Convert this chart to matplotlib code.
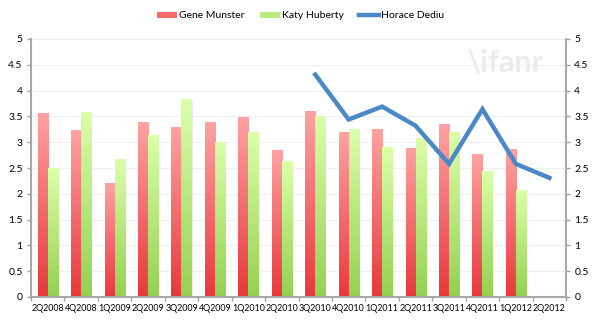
import numpy as np
import matplotlib
matplotlib.use("Agg")
import matplotlib.pyplot as plt
from matplotlib.colors import LinearSegmentedColormap
from matplotlib.patches import Patch
from matplotlib.lines import Line2D

plt.rcParams['font.family'] = ['Lato', 'DejaVu Sans']

categories = ["2Q2008", "4Q2008", "1Q2009", "2Q2009", "3Q2009", "4Q2009", "1Q2010", "2Q2010",
              "3Q2010", "4Q2010", "1Q2011", "2Q2011", "3Q2011", "4Q2011", "1Q2012", "2Q2012"]
gene = [3.56, 3.22, 2.20, 3.39, 3.29, 3.39, 3.48, 2.83, 3.60, 3.19, 3.25, 2.87, 3.35, 2.76, 2.85, np.nan]
katy = [2.50, 3.58, 2.66, 3.13, 3.82, 3.00, 3.19, 2.62, 3.49, 3.25, 2.90, 3.08, 3.19, 2.43, 2.06, np.nan]
horace = [np.nan] * 8 + [4.31, 3.44, 3.69, 3.32, 2.58, 3.64, 2.58, 2.31]
yticks = [0, 0.5, 1, 1.5, 2, 2.5, 3, 3.5, 4, 4.5, 5]
ytick_labels = ["0", "0.5", "1", "1.5", "2", "2.5", "3", "3.5", "4", "4.5", "5"]

fig = plt.figure(figsize=(5.95, 3.29), dpi=100)
ax = fig.add_axes([31 / 595, 1 - 297 / 329, (566 - 31) / 595, (297 - 39) / 329])

x = np.arange(len(categories))
w = 0.3
red_cmap = LinearSegmentedColormap.from_list("r", ["#e8383c", "#ffa2a2"])
green_cmap = LinearSegmentedColormap.from_list("g", ["#94d150", "#dcffaa"])
grad = np.linspace(0, 1, 256).reshape(-1, 1)

def grad_bars(xs, vals, cmap):
    bars = ax.bar(xs, vals, width=w, color="none", edgecolor="none", zorder=2)
    for b in bars:
        h = b.get_height()
        if not np.isfinite(h) or h <= 0:
            continue
        x0, y0 = b.get_x(), b.get_y()
        ax.add_patch(plt.Rectangle((x0 + 0.03, y0), b.get_width(), h, color="#d8d8d8",
                                   alpha=0.5, zorder=1.5, lw=0))
        ax.imshow(grad, extent=[x0, x0 + b.get_width(), y0, y0 + h], origin="lower",
                  aspect="auto", cmap=cmap, zorder=2)

grad_bars(x - w / 2, gene, red_cmap)
grad_bars(x + w / 2, katy, green_cmap)

ax.plot(x, horace, color="#4a88c8", lw=3.2, zorder=4, solid_joinstyle="miter")

ax.set_xlim(-0.5, len(categories) - 0.5)
ax.set_ylim(0, 5)
ax.set_yticks(yticks)
ax.set_yticklabels(ytick_labels)
ax.tick_params(axis="y", which="both", labelsize=7.5, length=3, width=1, color="#a0a0a0",
               labelright=True, right=True, pad=3)
ax.set_xticks(x)
ax.set_xticklabels(categories)
ax.set_xticks(np.arange(-0.5, len(categories) + 0.5, 1), minor=True)
ax.tick_params(axis="x", which="major", length=0, pad=5, labelsize=6.4)
ax.tick_params(axis="x", which="minor", length=3, width=1, color="#a0a0a0")
ax.grid(axis="y", color="#efefef", lw=0.8, zorder=0)
ax.set_axisbelow(True)
ax.spines["top"].set_visible(False)
for s in ["left", "right", "bottom"]:
    ax.spines[s].set_color("#a8a8a8")
    ax.spines[s].set_linewidth(1.5)

ax.text(0.885, 0.91, "\\ifanr", transform=ax.transAxes, fontsize=22, color="#ececec",
        ha="center", va="center", fontweight="bold", zorder=1)

handles = [Patch(facecolor="#f56a6a", edgecolor="none"),
           Patch(facecolor="#b8ec78", edgecolor="none"),
           Line2D([0], [0], color="#4a88c8", lw=3.2)]
fig.legend(handles, ["Gene Munster", "Katy Huberty", "Horace Dediu"], loc="center",
           bbox_to_anchor=(0.505, 1 - 16 / 329), ncol=3, frameon=False, fontsize=7.5,
           handlelength=1.9, handleheight=0.6, columnspacing=1.5, handletextpad=0.2)

fig.savefig("out.png", dpi=100, facecolor="white")
